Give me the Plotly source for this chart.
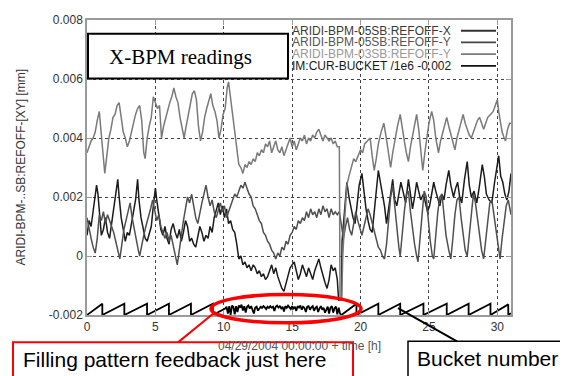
import plotly.graph_objects as go

# ---------------- data ----------------
x_ticks = [0, 5, 10, 15, 20, 25, 30]
x_ticktext = ["0", "5", "10", "15", "20", "25", "30"]
y_ticks = [-0.002, 0, 0.002, 0.004, 0.006, 0.008]
y_ticktext = ["-0.002", "0", "0.002", "0.004", "0.006", "0.008"]

series_names = ["ARIDI-BPM-05SB:REFOFF-X", "ARIDI-BPM-05SB:REFOFF-Y",
                "ARIDI-BPM-03SB:REFOFF-Y", "IM:CUR-BUCKET /1e6 -0.002"]

# ARIDI-BPM-05SB:REFOFF-X
x_05x = [0.0, 0.15, 0.3, 0.45, 0.6, 0.7, 0.8, 0.9, 1.05, 1.2, 1.35, 1.5, 1.65, 1.8, 1.95, 2.1, 2.25, 2.35,
         2.5, 2.65, 2.8, 2.95, 3.1, 3.25, 3.4, 3.55, 3.7, 3.8, 3.95, 4.1, 4.25, 4.4, 4.55, 4.7, 4.85, 5.0,
         5.1, 5.25, 5.4, 5.55, 5.7, 5.85, 6.0, 6.15, 6.3, 6.45, 6.6, 6.75, 6.9, 7.05, 7.2, 7.35, 7.5, 7.65,
         7.8, 7.95, 8.1, 8.25, 8.4, 8.55, 8.7, 8.85, 9.0, 9.15, 9.3, 9.45, 9.6, 9.75, 9.9, 10.05, 10.2,
         10.35, 10.5, 10.65, 10.8, 10.95, 11.1, 11.25, 11.4, 11.55, 11.7, 11.85, 12.0, 12.15, 12.3, 12.45,
         12.6, 12.75, 12.9, 13.05, 13.2, 13.35, 13.5, 13.65, 13.8, 13.95, 14.1, 14.25, 14.4, 14.55, 14.7,
         14.85, 15.0, 15.15, 15.3, 15.45, 15.6, 15.75, 15.9, 16.05, 16.2, 16.35, 16.5, 16.65, 16.8, 16.95,
         17.1, 17.25, 17.4, 17.55, 17.7, 17.85, 18.0, 18.15, 18.3, 18.4, 18.6, 18.65, 18.8, 19.0, 19.15,
         19.3, 19.45, 19.6, 19.75, 19.9, 20.1, 20.25, 20.4, 20.55, 20.7, 20.85, 21.0, 21.15, 21.3, 21.45,
         21.6, 21.75, 21.9, 22.05, 22.2, 22.35, 22.5, 22.65, 22.8, 22.95, 23.1, 23.3, 23.5, 23.65, 23.8,
         23.95, 24.1, 24.25, 24.4, 24.6, 24.75, 24.9, 25.05, 25.2, 25.35, 25.5, 25.65, 25.8, 25.95, 26.1,
         26.25, 26.45, 26.6, 26.8, 26.95, 27.1, 27.25, 27.4, 27.6, 27.8, 27.95, 28.1, 28.3, 28.5, 28.7,
         28.9, 29.05, 29.2, 29.4, 29.6, 29.8, 30.0, 30.1, 30.25, 30.4, 30.55, 30.7, 30.85, 31.0]
y_05x = [0.0007, 0.0012, 0.0010, 0.0015, 0.0019, 0.0024, 0.0021, 0.0015, 0.0007, 0.0009, 0.0013, 0.0008,
         0.0006, 0.0011, 0.0016, 0.0020, 0.0026, 0.0020, 0.0013, 0.0009, 0.0005, 0.0008, 0.0007, 0.0011,
         0.0015, 0.0019, 0.0026, 0.0019, 0.0013, 0.0009, 0.0006, 0.0005, 0.0008, 0.0010, 0.0017, 0.0023,
         0.0019, 0.0013, 0.0009, 0.0007, 0.0010, 0.0006, 0.0004, 0.0009, 0.0011, 0.0008, 0.0006, 0.0009,
         0.0005, 0.0008, 0.0012, 0.0010, 0.0005, 0.0006, 0.0004, 0.0003, 0.0007, 0.0010, 0.0008, 0.0005,
         0.0007, 0.0006, 0.0010, 0.0008, 0.0013, 0.0016, 0.0018, 0.0014, 0.0017, 0.0013, 0.0016, 0.0011,
         0.0012, 0.0009, 0.0008, 0.0004, -0.0001, 0.0000, -0.0003, -0.0002, -0.0004, -0.0003, -0.0005,
         -0.0003, -0.0004, -0.0006, -0.0005, -0.0007, -0.0006, -0.0008, -0.0007, -0.0005, -0.0003, -0.0006,
         -0.0004, -0.0007, -0.0009, -0.0011, -0.0012, -0.0009, -0.0006, -0.0004, -0.0003, -0.0002, -0.0005,
         -0.0008, -0.0006, -0.0003, -0.0005, -0.0007, -0.0004, -0.0006, -0.0008, -0.0005, -0.0003, -0.0001,
         -0.0004, -0.0007, -0.0009, -0.0011, -0.0008, -0.0003, -0.0005, -0.0004, -0.0008, -0.0015, -0.0015,
         0.0005, 0.0015, 0.0025, 0.0020, 0.0016, 0.0013, 0.0011, 0.0018, 0.0024, 0.0028, 0.0021, 0.0016,
         0.0012, 0.0009, 0.0008, 0.0014, 0.0022, 0.0029, 0.0025, 0.0021, 0.0017, 0.0011, 0.0016, 0.0022,
         0.0026, 0.0019, 0.0017, 0.0021, 0.0025, 0.0022, 0.0018, 0.0026, 0.0021, 0.0016, 0.0020, 0.0025,
         0.0022, 0.0019, 0.0021, 0.0018, 0.0015, 0.0017, 0.0021, 0.0025, 0.0022, 0.0019, 0.0017, 0.0021,
         0.0019, 0.0024, 0.0029, 0.0024, 0.0020, 0.0023, 0.0025, 0.0020, 0.0018, 0.0026, 0.0032, 0.0024,
         0.0020, 0.0022, 0.0018, 0.0024, 0.0031, 0.0027, 0.0021, 0.0019, 0.0018, 0.0025, 0.0031, 0.0034,
         0.0027, 0.0025, 0.0021, 0.0019, 0.0022, 0.0028]

# ARIDI-BPM-05SB:REFOFF-Y
x_05y = [0.0, 0.15, 0.3, 0.45, 0.6, 0.75, 0.9, 1.05, 1.2, 1.35, 1.5, 1.65, 1.8, 1.95, 2.1, 2.25, 2.4, 2.55,
         2.7, 2.85, 3.0, 3.15, 3.3, 3.45, 3.6, 3.75, 3.85, 4.0, 4.15, 4.3, 4.5, 4.65, 4.8, 4.95, 5.1, 5.25,
         5.4, 5.55, 5.7, 5.85, 6.0, 6.15, 6.3, 6.45, 6.6, 6.75, 6.9, 7.05, 7.2, 7.35, 7.5, 7.65, 7.8, 7.95,
         8.1, 8.25, 8.4, 8.55, 8.7, 8.85, 9.0, 9.15, 9.3, 9.45, 9.6, 9.75, 9.9, 10.05, 10.2, 10.35, 10.5,
         10.65, 10.8, 10.95, 11.1, 11.25, 11.4, 11.55, 11.7, 11.85, 12.0, 12.15, 12.3, 12.45, 12.6, 12.75,
         12.9, 13.05, 13.2, 13.35, 13.5, 13.65, 13.8, 13.95, 14.1, 14.25, 14.4, 14.55, 14.7, 14.85, 15.0,
         15.15, 15.3, 15.45, 15.6, 15.75, 15.9, 16.05, 16.2, 16.35, 16.5, 16.65, 16.8, 16.95, 17.1, 17.25,
         17.4, 17.55, 17.7, 17.85, 18.0, 18.15, 18.3, 18.45, 18.6, 18.75, 18.9, 19.05, 19.2, 19.35, 19.5,
         19.65, 19.8, 19.95, 20.1, 20.25, 20.4, 20.55, 20.7, 20.85, 21.0, 21.15, 21.3, 21.45, 21.6, 21.75,
         21.9, 22.05, 22.2, 22.35, 22.5, 22.65, 22.8, 22.9, 23.05, 23.2, 23.35, 23.5, 23.65, 23.8, 23.95,
         24.1, 24.2, 24.35, 24.5, 24.65, 24.8, 24.95, 25.1, 25.25, 25.35, 25.5, 25.65, 25.8, 25.95, 26.1,
         26.25, 26.45, 26.6, 26.75, 26.9, 27.05, 27.2, 27.35, 27.5, 27.65, 27.8, 27.95, 28.1, 28.25, 28.4,
         28.55, 28.7, 28.85, 29.0, 29.15, 29.3, 29.45, 29.6, 29.75, 29.9, 30.05, 30.2, 30.35, 30.5, 30.65,
         30.8, 31.0]
y_05y = [0.0013, 0.0009, 0.0006, 0.0003, 0.0001, 0.0006, 0.0014, 0.0012, 0.0015, 0.0011, 0.0014, 0.0012,
         0.0010, 0.0008, 0.0005, 0.0002, -0.0001, 0.0004, 0.0009, 0.0012, 0.0015, 0.0018, 0.0013, 0.0009,
         0.0006, 0.0002, 0.0000, 0.0004, 0.0007, 0.0010, 0.0013, 0.0016, 0.0019, 0.0015, 0.0012, 0.0014,
         0.0010, 0.0008, 0.0006, 0.0008, 0.0005, 0.0007, 0.0004, 0.0001, -0.0003, 0.0002, 0.0008, 0.0012,
         0.0016, 0.0020, 0.0018, 0.0021, 0.0017, 0.0013, 0.0011, 0.0015, 0.0018, 0.0021, 0.0024, 0.0020,
         0.0017, 0.0019, 0.0015, 0.0013, 0.0016, 0.0018, 0.0015, 0.0017, 0.0013, 0.0015, 0.0017, 0.0019,
         0.0021, 0.0020, 0.0022, 0.0024, 0.0023, 0.0025, 0.0023, 0.0021, 0.0020, 0.0017, 0.0016, 0.0014,
         0.0012, 0.0011, 0.0008, 0.0007, 0.0005, 0.0004, 0.0002, 0.0001, -0.0001, 0.0001, 0.0000, 0.0003,
         0.0002, 0.0005, 0.0004, 0.0007, 0.0008, 0.0010, 0.0009, 0.0012, 0.0011, 0.0013, 0.0012, 0.0015,
         0.0013, 0.0016, 0.0014, 0.0015, 0.0013, 0.0016, 0.0014, 0.0017, 0.0015, 0.0016, 0.0013, 0.0016,
         0.0014, 0.0015, 0.0014, 0.0015, 0.0010, 0.0006, 0.0010, 0.0013, 0.0009, 0.0007, 0.0011, 0.0015,
         0.0012, 0.0009, 0.0007, 0.0010, 0.0013, 0.0016, 0.0014, 0.0011, 0.0008, 0.0005, 0.0003, 0.0002,
         0.0000, -0.0001, 0.0004, 0.0012, 0.0020, 0.0024, 0.0017, 0.0009, 0.0003, 0.0000, 0.0008, 0.0015,
         0.0021, 0.0022, 0.0015, 0.0009, 0.0004, 0.0000, -0.0002, 0.0006, 0.0015, 0.0022, 0.0020, 0.0012,
         0.0005, 0.0000, -0.0001, 0.0007, 0.0015, 0.0020, 0.0021, 0.0014, 0.0007, 0.0002, -0.0001, 0.0006,
         0.0014, 0.0019, 0.0020, 0.0013, 0.0007, 0.0002, 0.0000, 0.0007, 0.0015, 0.0021, 0.0018, 0.0012,
         0.0006, 0.0002, -0.0001, 0.0006, 0.0013, 0.0018, 0.0019, 0.0014, 0.0008, 0.0003, -0.0001, 0.0006,
         0.0012, 0.0017, 0.0019, 0.0014]

# ARIDI-BPM-03SB:REFOFF-Y
x_03y = [0.0, 0.15, 0.3, 0.45, 0.6, 0.75, 0.9, 1.05, 1.2, 1.3, 1.45, 1.6, 1.75, 1.9, 2.05, 2.2, 2.35, 2.5,
         2.65, 2.8, 2.95, 3.1, 3.25, 3.4, 3.55, 3.7, 3.85, 4.0, 4.15, 4.25, 4.4, 4.55, 4.7, 4.85, 5.0, 5.15,
         5.3, 5.45, 5.6, 5.75, 5.9, 6.05, 6.2, 6.35, 6.5, 6.65, 6.8, 6.95, 7.1, 7.25, 7.4, 7.55, 7.7, 7.85,
         8.0, 8.15, 8.3, 8.45, 8.6, 8.75, 8.9, 9.05, 9.2, 9.35, 9.5, 9.65, 9.8, 9.95, 10.1, 10.25, 10.35,
         10.5, 10.65, 10.8, 10.95, 11.1, 11.25, 11.4, 11.55, 11.7, 11.85, 12.0, 12.15, 12.3, 12.45, 12.6,
         12.75, 12.9, 13.05, 13.2, 13.35, 13.5, 13.65, 13.8, 13.95, 14.1, 14.25, 14.4, 14.55, 14.7, 14.85,
         15.0, 15.15, 15.3, 15.45, 15.6, 15.75, 15.9, 16.05, 16.2, 16.35, 16.5, 16.65, 16.8, 16.95, 17.1,
         17.25, 17.4, 17.55, 17.7, 17.85, 18.0, 18.15, 18.3, 18.45, 18.5, 18.62, 18.7, 18.85, 19.0, 19.15,
         19.3, 19.5, 19.65, 19.8, 20.0, 20.15, 20.3, 20.5, 20.7, 20.85, 21.0, 21.15, 21.3, 21.5, 21.7, 21.85,
         22.0, 22.2, 22.35, 22.5, 22.7, 22.9, 23.05, 23.2, 23.35, 23.5, 23.65, 23.8, 23.95, 24.1, 24.25,
         24.4, 24.55, 24.7, 24.85, 25.0, 25.2, 25.35, 25.5, 25.7, 25.85, 26.0, 26.15, 26.3, 26.45, 26.6,
         26.75, 26.9, 27.05, 27.2, 27.35, 27.5, 27.65, 27.8, 27.95, 28.1, 28.25, 28.4, 28.55, 28.7, 28.85,
         29.0, 29.15, 29.3, 29.5, 29.7, 29.85, 30.0, 30.1, 30.2, 30.35, 30.5, 30.6, 30.75, 30.9, 31.0]
y_03y = [0.0035, 0.0037, 0.0039, 0.0040, 0.0042, 0.0046, 0.0049, 0.0041, 0.0033, 0.0028, 0.0034, 0.0040,
         0.0043, 0.0047, 0.0048, 0.0051, 0.0052, 0.0047, 0.0042, 0.0040, 0.0037, 0.0039, 0.0042, 0.0046,
         0.0048, 0.0050, 0.0051, 0.0046, 0.0035, 0.0033, 0.0040, 0.0044, 0.0047, 0.0054, 0.0052, 0.0050,
         0.0051, 0.0040, 0.0044, 0.0047, 0.0049, 0.0052, 0.0054, 0.0057, 0.0054, 0.0052, 0.0047, 0.0043,
         0.0040, 0.0044, 0.0048, 0.0052, 0.0055, 0.0056, 0.0053, 0.0044, 0.0039, 0.0042, 0.0047, 0.0050,
         0.0053, 0.0055, 0.0051, 0.0049, 0.0046, 0.0040, 0.0043, 0.0048, 0.0050, 0.0057, 0.0059, 0.0053,
         0.0048, 0.0042, 0.0036, 0.0031, 0.0030, 0.0028, 0.0031, 0.0030, 0.0032, 0.0031, 0.0033, 0.0032,
         0.0035, 0.0034, 0.0036, 0.0035, 0.0038, 0.0037, 0.0039, 0.0035, 0.0037, 0.0039, 0.0036, 0.0035,
         0.0037, 0.0034, 0.0036, 0.0038, 0.0040, 0.0037, 0.0039, 0.0036, 0.0038, 0.0040, 0.0039, 0.0041,
         0.0038, 0.0040, 0.0039, 0.0041, 0.0040, 0.0042, 0.0043, 0.0041, 0.0039, 0.0041, 0.0040, 0.0039,
         0.0040, 0.0038, 0.0039, 0.0037, 0.0037, -0.0015, -0.0015, 0.0000, 0.0013, 0.0024, 0.0027, 0.0030,
         0.0033, 0.0032, 0.0034, 0.0036, 0.0035, 0.0038, 0.0039, 0.0040, 0.0034, 0.0029, 0.0033, 0.0038,
         0.0042, 0.0045, 0.0041, 0.0036, 0.0030, 0.0035, 0.0039, 0.0044, 0.0048, 0.0043, 0.0039, 0.0035,
         0.0032, 0.0037, 0.0041, 0.0045, 0.0048, 0.0043, 0.0037, 0.0029, 0.0035, 0.0040, 0.0045, 0.0049,
         0.0046, 0.0040, 0.0035, 0.0039, 0.0042, 0.0045, 0.0047, 0.0044, 0.0041, 0.0038, 0.0036, 0.0040,
         0.0043, 0.0046, 0.0048, 0.0045, 0.0043, 0.0041, 0.0040, 0.0042, 0.0044, 0.0046, 0.0047, 0.0045,
         0.0043, 0.0045, 0.0047, 0.0048, 0.0049, 0.0051, 0.0053, 0.0049, 0.0046, 0.0042, 0.0040, 0.0039,
         0.0043, 0.0045, 0.0045]

# IM:CUR-BUCKET /1e6 -0.002 (bucket number, sawtooth + feedback period)
x_bucket = [0.0, 1.12, 1.12, 2.73, 2.73, 4.39, 4.39, 5.99, 5.99, 7.6, 7.6, 9.2, 9.2, 10.1,
            10.2, 10.3, 10.4, 10.5, 10.6, 10.7, 10.8, 10.9, 11.0, 11.1, 11.2, 11.3, 11.4, 11.5, 11.6,
            11.7, 11.8, 11.9, 12.0, 12.1, 12.2, 12.3, 12.4, 12.5, 12.6, 12.7, 12.8, 12.9, 13.0, 13.1,
            13.2, 13.3, 13.4, 13.5, 13.6, 13.7, 13.8, 13.9, 14.0, 14.1, 14.2, 14.3, 14.4, 14.5, 14.6,
            14.7, 14.8, 14.9, 15.0, 15.1, 15.2, 15.3, 15.4, 15.5, 15.6, 15.7, 15.8, 15.9, 16.0, 16.1,
            16.2, 16.3, 16.4, 16.5, 16.6, 16.7, 16.8, 16.9, 17.0, 17.1, 17.2, 17.3, 17.4, 17.5, 17.6,
            17.7, 17.8, 17.9, 18.0, 18.1, 18.2, 18.3, 18.4, 18.5, 18.6,
            19.7, 19.7, 21.3, 21.3, 22.9, 22.9, 24.6, 24.6, 26.3, 26.3, 27.9, 27.9, 29.5, 29.5,
            30.8, 30.8, 31.0]
y_bucket = [-0.0020, -0.00162, -0.0020, -0.00162, -0.0020, -0.00162, -0.0020, -0.00162, -0.0020,
            -0.00162, -0.0020, -0.00162, -0.0020, -0.00178,
            -0.00172, -0.00195, -0.00170, -0.00200, -0.00168, -0.00172, -0.00198, -0.00170, -0.00190,
            -0.00168, -0.00175, -0.00165, -0.00185, -0.00170, -0.00192, -0.00172, -0.00168, -0.00178,
            -0.00170, -0.00182, -0.00195, -0.00175, -0.00172, -0.00185, -0.00178, -0.00172, -0.00176,
            -0.00170, -0.00174, -0.00180, -0.00172, -0.00176, -0.00170, -0.00175, -0.00172, -0.00186,
            -0.00172, -0.00168, -0.00175, -0.00170, -0.00178, -0.00172, -0.00188, -0.00170, -0.00176,
            -0.00168, -0.00174, -0.00180, -0.00170, -0.00178, -0.00172, -0.00186, -0.00170, -0.00175,
            -0.00168, -0.00182, -0.00172, -0.00176, -0.00190, -0.00172, -0.00170, -0.00182, -0.00174,
            -0.00170, -0.00186, -0.00176, -0.00172, -0.00190, -0.00178, -0.00170, -0.00182, -0.00175,
            -0.00192, -0.00178, -0.00172, -0.00195, -0.00175, -0.00170, -0.00192, -0.00176, -0.00172,
            -0.00198, -0.00175, -0.00195, -0.00200,
            -0.00162, -0.0020, -0.00162, -0.0020, -0.00162, -0.0020, -0.00162, -0.0020, -0.00162,
            -0.0020, -0.00162, -0.0020, -0.00162, -0.0020, -0.00164, -0.0020, -0.00194]

# ---------------- styling ----------------
SANS = "Arial, Liberation Sans, sans-serif"
SERIF = "Times New Roman, Liberation Serif, serif"
PAGE_OFF = 8                      # the html body adds an 8 px margin
W, H = 568 - PAGE_OFF, 376 - PAGE_OFF
L, R, T, B = 87, 511, 13, 315     # plot area in the 568x376 screenshot


def px(x):
    return (x - L) / (R - L)


def py(y):
    return (B - y) / (B - T)


fig = go.Figure()
trace_colors = ["#1c1c1c", "#505050", "#7a7a7a", "#000000"]
for xs, ys, c, w, n in [(x_05x, y_05x, trace_colors[0], 1.5, series_names[0]),
                        (x_05y, y_05y, trace_colors[1], 1.5, series_names[1]),
                        (x_03y, y_03y, trace_colors[2], 1.5, series_names[2]),
                        (x_bucket, y_bucket, trace_colors[3], 1.8, series_names[3])]:
    fig.add_trace(go.Scatter(x=xs, y=ys, mode="lines", name=n, showlegend=False,
                             line=dict(color=c, width=w), hoverinfo="skip"))

axis_common = dict(showline=True, linecolor="#9a9a9a", linewidth=1.5, mirror="ticks",
                   ticks="inside", ticklen=5, tickcolor="#9a9a9a", tickwidth=1,
                   showgrid=True, gridcolor="#444444", gridwidth=1, griddash="dot",
                   zeroline=False, tickfont=dict(family=SANS, size=12, color="#333333"))

fig.update_xaxes(range=[0, 31], tickvals=x_ticks, ticktext=x_ticktext, **axis_common)
fig.update_yaxes(range=[-0.002, 0.008], tickvals=y_ticks, ticktext=y_ticktext, **axis_common)

shapes = [
    # X-BPM readings box
    dict(type="rect", xref="paper", yref="paper", x0=px(88), x1=px(288), y0=py(73), y1=py(27),
         line=dict(color="black", width=2), fillcolor="white", layer="above"),
    # red box
    dict(type="rect", xref="paper", yref="paper", x0=px(13), x1=px(353), y0=py(384), y1=py(343),
         line=dict(color="#ff0000", width=2), fillcolor="rgba(255,255,255,0.6)", layer="above"),
    # bucket box
    dict(type="rect", xref="paper", yref="paper", x0=px(408), x1=px(572), y0=py(384), y1=py(342),
         line=dict(color="black", width=1.5), fillcolor="white", layer="above"),
    # red ellipse
    dict(type="circle", xref="paper", yref="paper", x0=px(211), x1=px(361), y0=py(323), y1=py(294),
         line=dict(color="#ff0000", width=3.5), layer="above"),
    # red connector
    dict(type="line", xref="paper", yref="paper", x0=px(178), y0=py(343), x1=px(214), y1=py(313),
         line=dict(color="#ff0000", width=2), layer="above"),
    # bucket connector
    dict(type="line", xref="paper", yref="paper", x0=px(398), y0=py(308), x1=px(457), y1=py(342),
         line=dict(color="black", width=2), layer="above"),
]

legend_text_colors = ["#3a3a3a", "#555555", "#999999", "#1a1a1a"]
legend_line_colors = ["#333333", "#444444", "#7a7a7a", "#111111"]
legend_rows = [24, 36, 48, 60]
annotations = [
    dict(text="04/29/2004 00:00:00 + time [h]", x=px(299), y=py(347), xref="paper", yref="paper",
         showarrow=False, xanchor="center", yanchor="middle",
         font=dict(family=SANS, size=12, color="#555555")),
    dict(text="ARIDI-BPM-..SB:REFOFF-[XY] [mm]", x=px(20), y=py(164), xref="paper", yref="paper",
         showarrow=False, xanchor="center", yanchor="middle", textangle=-90,
         font=dict(family=SANS, size=12, color="#333333")),
    dict(text="X-BPM readings", x=px(180.5), y=py(51), xref="paper", yref="paper",
         showarrow=False, xanchor="center", yanchor="middle",
         font=dict(family=SERIF, size=21, color="black")),
    dict(text="Filling pattern feedback just here", x=px(175), y=py(361), xref="paper", yref="paper",
         showarrow=False, xanchor="center", yanchor="middle",
         font=dict(family=SANS, size=21, color="black")),
    dict(text="Bucket number", x=px(487), y=py(360), xref="paper", yref="paper",
         showarrow=False, xanchor="center", yanchor="middle",
         font=dict(family=SANS, size=21, color="black")),
]
for name, tc, lc, row in zip(series_names, legend_text_colors, legend_line_colors, legend_rows):
    annotations.append(dict(text=name, x=px(453), y=py(row), xref="paper", yref="paper",
                            showarrow=False, xanchor="right", yanchor="middle",
                            font=dict(family=SANS, size=12, color=tc)))
    shapes.append(dict(type="line", xref="paper", yref="paper", x0=px(461), x1=px(496),
                       y0=py(row), y1=py(row), line=dict(color=lc, width=1.8), layer="above"))

fig.update_layout(width=W, height=H,
                  margin=dict(l=L - PAGE_OFF, r=568 - R, t=T - PAGE_OFF, b=376 - B),
                  paper_bgcolor="white", plot_bgcolor="white", showlegend=False,
                  shapes=shapes, annotations=annotations)

fig.write_html("out.html")
